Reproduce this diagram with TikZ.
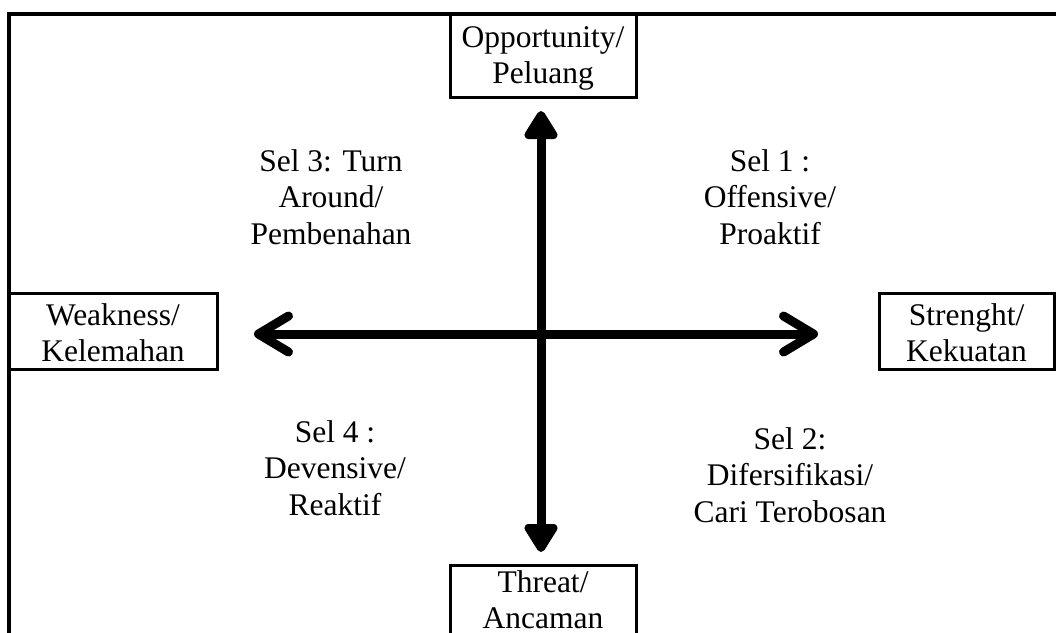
\documentclass[tikz,border=0pt]{standalone}
\usepackage{fontspec}
\setmainfont{Liberation Serif}
\usetikzlibrary{arrows.meta}
\begin{document}
\begin{tikzpicture}[x=1pt,y=-1pt,
  txt/.style={font=\fontsize{31.5}{36.5}\selectfont, align=center, inner sep=0pt},
  factor/.style={draw, line width=3pt, minimum height=76pt, outer sep=0pt, txt},
  axis/.style={line width=9pt, line cap=round},
  hbarb/.style={-{Straight Barb[length=30pt,width=36pt,round]}},
  vtri/.style={-{Triangle[length=32pt,width=37pt,round]}}]
\useasboundingbox (0,0) rectangle (1056,632);
\clip (0,0) rectangle (1056,632);
\fill[white] (0,0) rectangle (1056,632);
% outer frame (continues past the right and bottom edges)
\draw[line width=3.5pt] (9,14) rectangle (1075,660);
% the four factor boxes (y grows downwards, so a negative yshift moves text down)
\node[factor, minimum width=186pt, minimum height=83pt, anchor=north west] (opp) at (450,14) {};
\node[txt] (opptxt) at ([yshift=-3pt]opp.center) {Opportunity/\\Peluang};
\node[factor, minimum width=208pt, anchor=north west] (weak) at (9,293) {};
\node[txt] (weaktxt) at ([yshift=-1.5pt]weak.center) {Weakness/\\Kelemahan};
\node[factor, minimum width=175pt, anchor=north west] (str) at (879,293) {};
\node[txt] (strtxt) at ([yshift=-1.5pt]str.center) {Strenght/\\Kekuatan};
\node[factor, minimum width=186pt, minimum height=90pt, anchor=north west] (thr) at (450,565) {};
\node[txt, anchor=north] (thrtxt) at (543,570) {Threat/\\Ancaman};
% axes
\coordinate (center) at (541,334);
\coordinate (wTip) at (254,334);
\coordinate (sTip) at (818,334);
\coordinate (oTip) at (541,111);
\coordinate (tTip) at (541,552);
\draw[axis, vtri] (center) -- (oTip);
\draw[axis, vtri] (center) -- (tTip);
\draw[axis, hbarb] (center) -- (wTip);
\draw[axis, hbarb] (center) -- (sTip);
% quadrant labels
\node[txt] (sel3) at (331,197) {Sel 3: Turn\\Around/\\Pembenahan};
\node[txt] (sel1) at (770,197) {Sel 1 :\\Offensive/\\Proaktif};
\node[txt] (sel4) at (335,468) {Sel 4 :\\Devensive/\\Reaktif};
\node[txt] (sel2) at (790,475) {Sel 2:\\Difersifikasi/\\Cari Terobosan};
\end{tikzpicture}
\end{document}
